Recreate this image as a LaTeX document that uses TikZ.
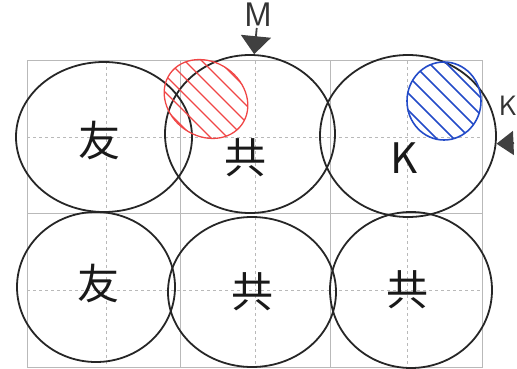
\documentclass[tikz,border=0pt]{standalone}
\usepackage{fontspec}
\usepackage{xcolor}
\usepackage{tikz}
\usetikzlibrary{shapes.geometric,arrows.meta}
\newfontfamily\cjk{Noto Sans CJK SC}
\definecolor{gridgray}{RGB}{185,185,185}
\definecolor{hatchred}{RGB}{240,70,70}
\definecolor{hatchblue}{RGB}{35,75,200}
\tikzset{
  cell/.style={ellipse,draw=black!85,line width=1.8pt,inner sep=0pt},
  glyph/.style={font=\cjk\fontsize{42}{42}\selectfont,text=black!90},
  tag/.style={font=\sffamily\fontsize{34}{34}\selectfont,text=black!80,inner sep=1pt},
  pointer/.style={-{Triangle[width=30pt,length=18pt]},line width=1.8pt,black!75}
}
\begin{document}
\begin{tikzpicture}[x=1pt,y=-1pt]
        \useasboundingbox (0,0) rectangle (517,369);
        % Grid
        \draw[gridgray,line width=1pt] (27,61) rectangle (482,367);
        \draw[gridgray,line width=1pt] (180,61) -- (180,367) (330,61) -- (330,367) (27,213) -- (482,213);
        \draw[gridgray,dashed,line width=1pt] (106,61) -- (106,367) (255,61) -- (255,367) (407,61) -- (407,367);
        \draw[gridgray,dashed,line width=1pt] (27,137) -- (482,137) (27,290) -- (482,290);
        % Top row
        \node[cell,minimum width=176pt,minimum height=150pt] (c11) at (104,137) {};
        \node[cell,minimum width=170pt,minimum height=158pt] (c12) at (250,134) {};
        \node[cell,minimum width=176pt,minimum height=162pt] (c13) at (408,136) {};
        % Bottom row
        \node[cell,minimum width=158pt,minimum height=150pt] (c21) at (96,287) {};
        \node[cell,minimum width=168pt,minimum height=150pt] (c22) at (252,292) {};
        \node[cell,minimum width=162pt,minimum height=156pt] (c23) at (411,290) {};
        % Glyphs
        \node[glyph] (g11) at (99,141) {友};
        \node[glyph] (g12) at (245,158) {共};
        \node[glyph] (g13) at (404,158) {K};
        \node[glyph] (g21) at (98,284) {友};
        \node[glyph] (g22) at (252,292) {共};
        \node[glyph] (g23) at (407,290) {共};
        % Hatched spots
        \begin{scope}
          \clip[rotate around={-35:(206,99)}] (206,99) ellipse (44 and 37);
          \foreach \d in {-51,-34,...,51}
            \draw[hatchred,line width=1.3pt] (206+\d/2-50,99-\d/2-50) -- ++(100,100);
        \end{scope}
        \draw[hatchred,line width=1.3pt,rotate around={-35:(206,99)}] (206,99) ellipse (44 and 37);
        \begin{scope}
          \clip (444,101) ellipse (37 and 39);
          \foreach \d in {-45,-28,...,45}
            \draw[hatchblue,line width=1.6pt] (444+\d/2-50,101-\d/2-50) -- ++(100,100);
        \end{scope}
        \draw[hatchblue,line width=1.6pt] (444,101) ellipse (37 and 39);
        % Arrows
        \node[tag] (m) at (258,15) {M};
        \node[tag,font=\sffamily\fontsize{28}{28}\selectfont] (k) at (508,106) {K};
        \coordinate (kin) at (514,143);
        \draw[pointer] (m) -- (c12.87);
        \draw[pointer,-{Triangle[width=24pt,length=17pt]}] (kin) -- (c13.-5);
    \end{tikzpicture}
\end{document}
